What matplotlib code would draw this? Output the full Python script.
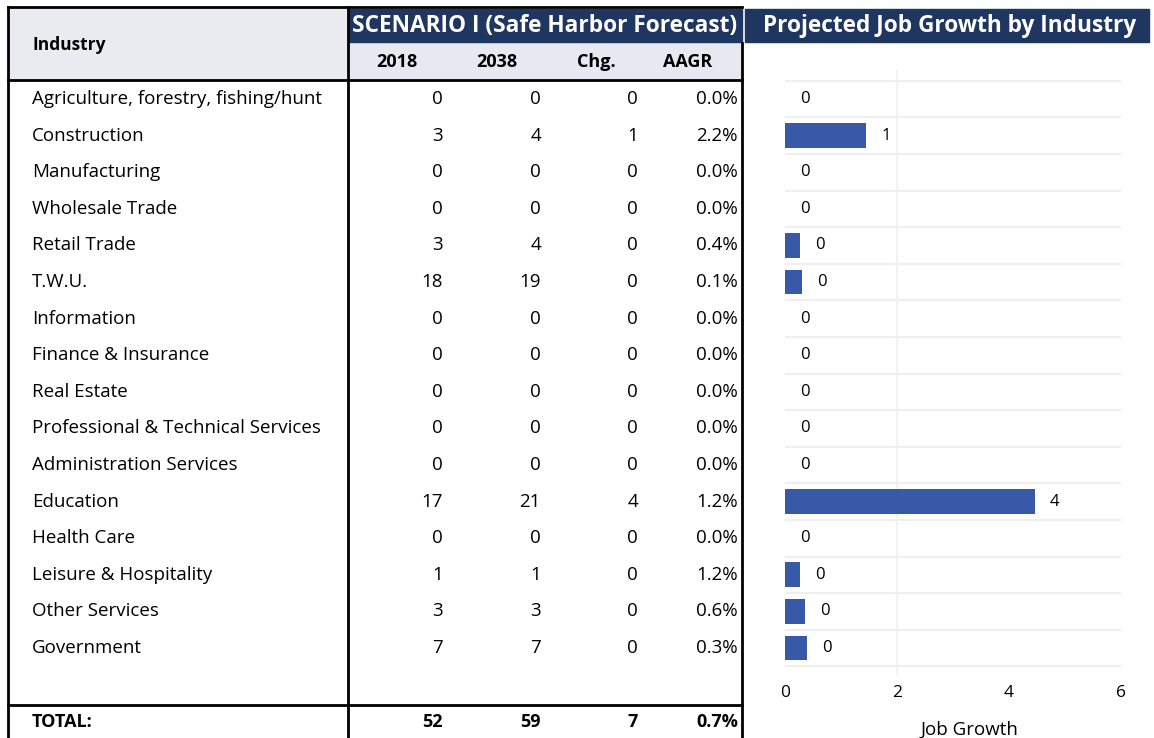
# Safe Harbor forecast table with projected job growth bars
import matplotlib.pyplot as plt
from matplotlib.patches import Rectangle

# data
industries = ['Agriculture, forestry, fishing/hunt', 'Construction', 'Manufacturing',
              'Wholesale Trade', 'Retail Trade', 'T.W.U.', 'Information',
              'Finance & Insurance', 'Real Estate', 'Professional & Technical Services',
              'Administration Services', 'Education', 'Health Care',
              'Leisure & Hospitality', 'Other Services', 'Government']
jobs_2018 = [0, 3, 0, 0, 3, 18, 0, 0, 0, 0, 0, 17, 0, 1, 3, 7]
jobs_2038 = [0, 4, 0, 0, 4, 19, 0, 0, 0, 0, 0, 21, 0, 1, 3, 7]
change = [0, 1, 0, 0, 0, 0, 0, 0, 0, 0, 0, 4, 0, 0, 0, 0]
aagr = [0.0, 2.2, 0.0, 0.0, 0.4, 0.1, 0.0, 0.0, 0.0, 0.0, 0.0, 1.2, 0.0, 1.2, 0.6, 0.3]
growth = [0, 1.45, 0, 0, 0.27, 0.30, 0, 0, 0, 0, 0, 4.46, 0, 0.27, 0.36, 0.39]
totals = [52, 59, 7]
total_aagr = 0.7
col_heads = ['2018', '2038', 'Chg.', 'AAGR']
x_ticks = [0, 2, 4, 6]

W, H = 1154, 738
navy = '#1f3760'
font = 'Open Sans'
fs = 13.5

fig = plt.figure(figsize=(W / 100, H / 100), dpi=100)
fig.patch.set_facecolor('white')

# table drawn in pixel space
tab = fig.add_axes([0, 0, 1, 1])
tab.set_xlim(0, W)
tab.set_ylim(H, 0)
tab.axis('off')

# header backgrounds
tab.add_patch(Rectangle((8, 7), 340, 73, color='#e9ebf0', zorder=0))
tab.add_patch(Rectangle((348, 43), 394, 36, color='#e6e9f1', zorder=0))
tab.add_patch(Rectangle((349, 9), 393, 33, color=navy, zorder=1))
tab.add_patch(Rectangle((745, 9), 404, 33, color=navy, zorder=1))

tab.text(545, 26, 'SCENARIO I (Safe Harbor Forecast)', color='white', fontsize=16.3,
         fontweight='bold', family=font, ha='center', va='center')
tab.text(950, 26, 'Projected Job Growth by Industry', color='white', fontsize=16.3,
         fontweight='bold', family=font, ha='center', va='center')
tab.text(32, 45, 'Industry', fontsize=12.5, fontweight='bold', family=font, va='center')

head_x = [397, 497, 596, 688]
for hx, h in zip(head_x, col_heads):
    tab.text(hx, 62, h, fontsize=13, fontweight='bold', family=font, ha='center', va='center')

# borders
lw = 2
tab.plot([8, 742], [7, 7], color='black', lw=lw)
tab.plot([8, 8], [7, H], color='black', lw=lw)
tab.plot([348, 348], [7, H], color='black', lw=lw)
tab.plot([742, 742], [43, H], color='black', lw=lw)
tab.plot([8, 742], [80, 80], color='black', lw=lw)
tab.plot([8, 742], [705, 705], color='black', lw=lw)

# rows
val_x = [443, 541, 638, 738]
row0, step = 99, 36.6
for i, name in enumerate(industries):
    y = row0 + step * i
    tab.text(32, y, name, fontsize=fs, family=font, va='center')
    vals = [str(jobs_2018[i]), str(jobs_2038[i]), str(change[i]), f'{aagr[i]:.1f}%']
    for vx, v in zip(val_x, vals):
        tab.text(vx, y, v, fontsize=fs, family=font, ha='right', va='center')

ty = 722
tab.text(32, ty, 'TOTAL:', fontsize=13, fontweight='bold', family=font, va='center')
tot_vals = [str(t) for t in totals] + [f'{total_aagr:.1f}%']
for vx, v in zip(val_x, tot_vals):
    tab.text(vx, ty, v, fontsize=13, fontweight='bold', family=font, ha='right', va='center')

# bar chart aligned with table rows
top_px, bot_px = 70, 675
ax = fig.add_axes([785 / W, 1 - bot_px / H, 336 / W, (bot_px - top_px) / H])
ax.set_facecolor('none')
ypos = list(range(len(industries)))
bars = ax.barh(ypos, growth, height=0.68, color='#3858a8', linewidth=0)
ax.bar_label(bars, fmt='%.0f', padding=11, fontsize=12, family=font)
ax.set_ylim((bot_px - row0) / step, (top_px - row0) / step)
ax.set_xlim(0, 6)
ax.set_xticks(x_ticks)
ax.set_xticklabels([str(t) for t in x_ticks], family=font, fontsize=12.5)
ax.tick_params(axis='x', length=0, pad=7)
ax.set_yticks([])
for s in ax.spines.values():
    s.set_visible(False)
for yb in [i + 0.5 for i in ypos[:-1]] + [-0.5, 15.5]:
    ax.axhline(yb, color='#efefef', lw=1.5, zorder=0)
ax.axvline(2, color='#f2f2f2', lw=1.5, zorder=0)
ax.set_xlabel('Job Growth', family=font, fontsize=13.5)
ax.xaxis.set_label_coords((969 - 785) / 336, -0.075)

fig.savefig('out.png', dpi=100)
